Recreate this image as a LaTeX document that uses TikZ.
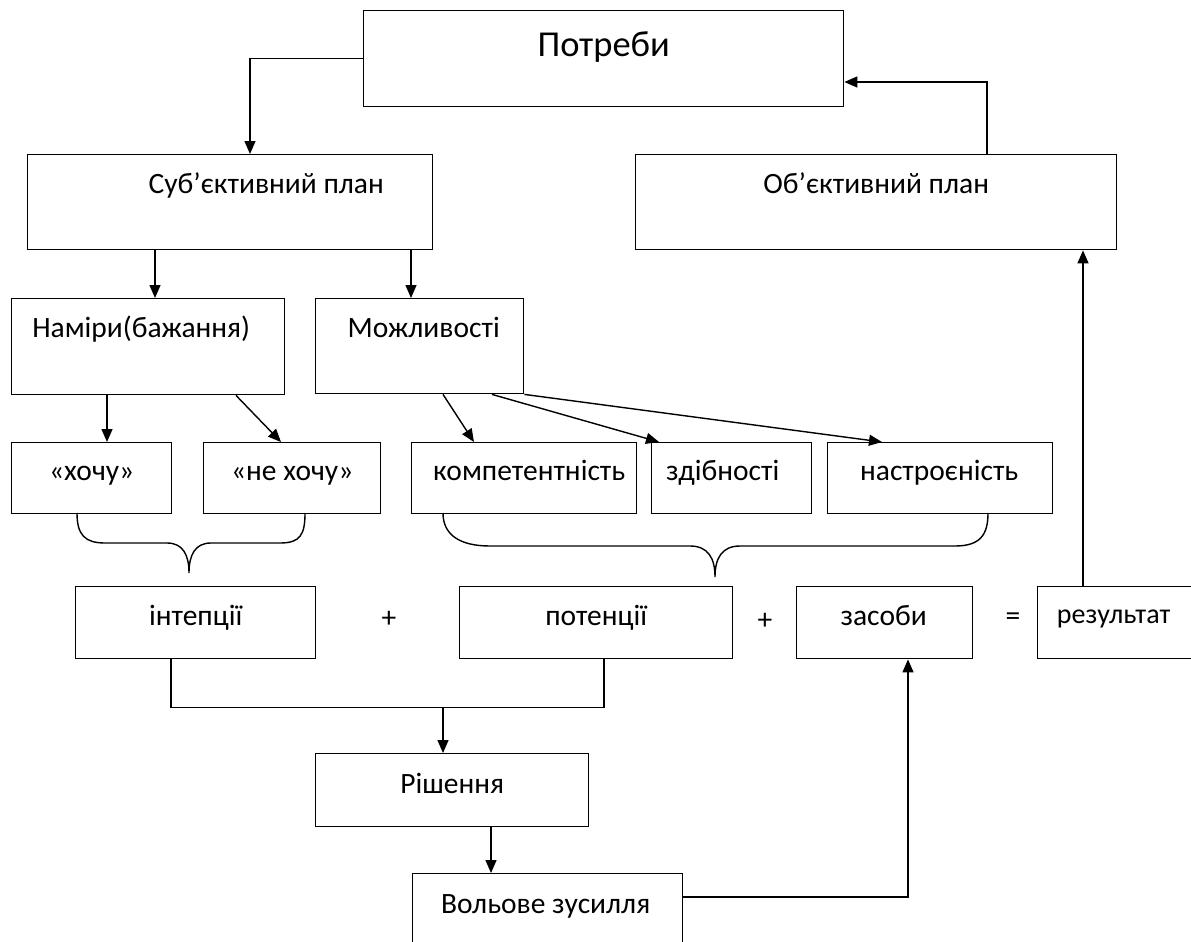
\documentclass[tikz,border=0pt]{standalone}
\usepackage{fontspec}
\setmainfont{Carlito}
\usetikzlibrary{arrows.meta,calc}
\begin{document}
\begin{tikzpicture}[x=1pt,y=-1pt,
  box/.style={draw, line width=1.4pt, inner sep=0pt, anchor=north west},
  txt/.style={anchor=base, font=\fontsize{29.5}{34}\selectfont, inner sep=0pt},
  sym/.style={anchor=center, font=\fontsize{29.5}{34}\selectfont, inner sep=0pt},
  arr/.style={line width=1.4pt, -{Triangle[length=13pt,width=11pt]}},
  ln/.style={line width=1.4pt}]
\clip (0,0) rectangle (1191,942);
\fill[white] (0,0) rectangle (1191,942);
% boxes
\node[box, minimum width=480pt, minimum height=96pt,
  label={[txt,font=\fontsize{36.5}{40}\selectfont,yshift=-47pt]north:Потреби}] (potreby) at (363,10) {};
\node[box, minimum width=405pt, minimum height=95pt,
  label={[txt,yshift=-39pt,xshift=36pt]north:Суб’єктивний план}] (sub) at (27,154) {};
\node[box, minimum width=481pt, minimum height=95pt,
  label={[txt,yshift=-39pt]north:Об’єктивний план}] (ob) at (635,154) {};
\node[box, minimum width=273pt, minimum height=96pt,
  label={[txt,yshift=-39pt,xshift=-7pt]north:Наміри(бажання)}] (namiry) at (11,298) {};
\node[box, minimum width=208pt, minimum height=95pt,
  label={[txt,yshift=-39pt,xshift=4pt]north:Можливості}] (mozh) at (315,298) {};
\node[box, minimum width=160pt, minimum height=71pt,
  label={[txt,yshift=-38pt]north:«хочу»}] (khochu) at (11,442) {};
\node[box, minimum width=177pt, minimum height=71pt,
  label={[txt,yshift=-38pt]north:«не хочу»}] (nekhochu) at (203,442) {};
\node[box, minimum width=225pt, minimum height=71pt,
  label={[txt,yshift=-38pt,xshift=5pt]north:компетентність}] (komp) at (411,442) {};
\node[box, minimum width=160pt, minimum height=71pt,
  label={[txt,yshift=-38pt,xshift=-9pt]north:здібності}] (zdib) at (651,442) {};
\node[box, minimum width=225pt, minimum height=71pt,
  label={[txt,yshift=-38pt,xshift=-1pt]north:настроєність}] (nastr) at (827,442) {};
\node[box, minimum width=240pt, minimum height=72pt,
  label={[txt,yshift=-39pt]north:інтепції}] (intep) at (75,586) {};
\node[box, minimum width=273pt, minimum height=72pt,
  label={[txt,yshift=-39pt]north:потенції}] (poten) at (459,586) {};
\node[box, minimum width=176pt, minimum height=72pt,
  label={[txt,yshift=-39pt,xshift=-1pt]north:засоби}] (zasoby) at (796,586) {};
\node[box, minimum width=200pt, minimum height=72pt,
  label={[txt,font=\fontsize{28}{32}\selectfont,yshift=-37pt,xshift=-24pt]north:результат}] (rez) at (1037,586) {};
\node[box, minimum width=273pt, minimum height=73pt,
  label={[txt,yshift=-40pt]north:Рішення}] (rish) at (315,753) {};
\node[box, minimum width=270pt, minimum height=90pt,
  label={[txt,yshift=-40pt,xshift=-2pt]north:Вольове зусилля}] (volove) at (412,873) {};
% signs
\node[sym] (plus1) at (389,619) {+};
\node[sym] (plus2) at (765,621) {+};
\node[sym] (eq) at (1013,619) {=};
% connectors
\draw[arr] (potreby.west) -| ($(sub.north west)+(223,0)$);
\draw[arr] ($(ob.north west)+(352,0)$) |- ($(potreby.north east)+(0,72)$);
\draw[arr] ($(sub.south west)+(128,0)$) coordinate (c1) -- (c1 |- namiry.north);
\draw[arr] ($(sub.south west)+(384,0)$) coordinate (c2) -- (c2 |- mozh.north);
\draw[arr] ($(namiry.south west)+(96,0)$) coordinate (c3) -- (c3 |- khochu.north);
\draw[arr] ($(namiry.south west)+(225,0)$) -- ($(nekhochu.north west)+(78,0)$);
\draw[arr] ($(mozh.south west)+(128,0)$) -- ($(komp.north west)+(63,0)$);
\draw[arr] ($(mozh.south west)+(177,0)$) -- ($(zdib.north west)+(8,0)$);
\draw[arr] (mozh.south east) -- ($(nastr.north west)+(55,0)$);
\draw[ln] ($(intep.south west)+(96,0)$) -- ++(0,48) -| ($(poten.south west)+(145,0)$);
\draw[arr] ($(intep.south west)+(368,48)$) -- ($(rish.north west)+(128,0)$);
\draw[arr] ($(rish.south west)+(176,0)$) coordinate (c5) -- (c5 |- volove.north);
\draw[arr] ($(volove.north east)+(0,24)$) -| ($(zasoby.south west)+(112,0)$);
\draw[arr] ($(rez.north west)+(46,0)$) coordinate (c6) -- (c6 |- ob.south);
% braces
\draw[ln] (77,513) .. controls (77,535) and (85,543) .. (105,543) -- (167,543)
  .. controls (183,543) and (189,555) .. (189,573)
  .. controls (189,555) and (195,543) .. (211,543) -- (280,543)
  .. controls (300,543) and (305,535) .. (305,513);
\draw[ln] (443,513) .. controls (443,535) and (460,546) .. (490,546) -- (690,546)
  .. controls (708,546) and (715,558) .. (715,577)
  .. controls (715,558) and (722,546) .. (740,546) -- (955,546)
  .. controls (980,546) and (988,535) .. (988,513);
\end{tikzpicture}
\end{document}
